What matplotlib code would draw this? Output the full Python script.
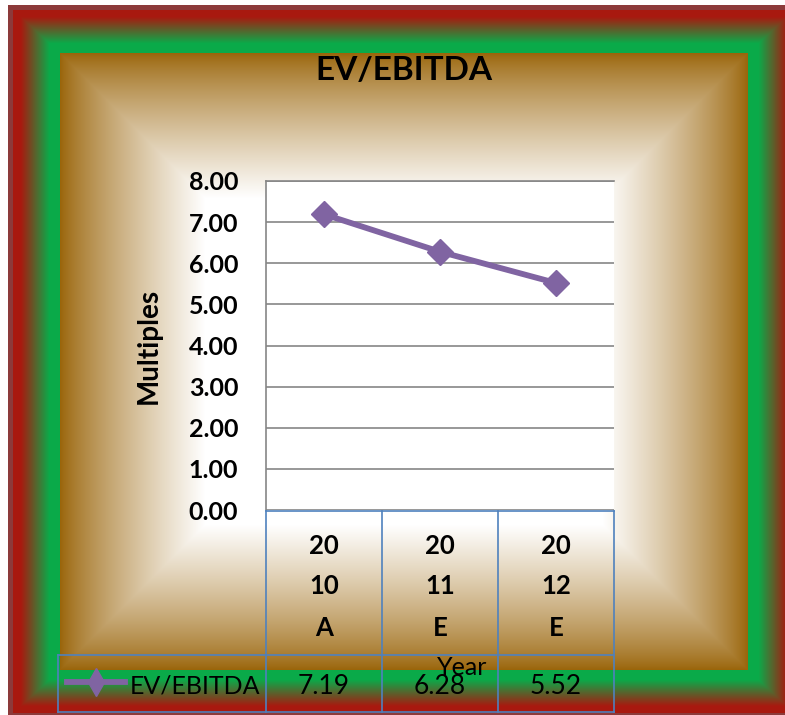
import numpy as np
import matplotlib.pyplot as plt
from matplotlib import transforms
from matplotlib.lines import Line2D

plt.rcParams['font.family'] = ['Lato', 'DejaVu Sans']

# data
categories = ['2010A', '2011E', '2012E']
ev_ebitda = [7.19, 6.28, 5.52]
yticks = [0, 1, 2, 3, 4, 5, 6, 7, 8]
series_name = 'EV/EBITDA'

W, H = 785, 715
fig = plt.figure(figsize=(W / 100, H / 100), dpi=100)

# frame background: red/green border band, brown -> white rectangular fill
xx, yy = np.meshgrid(np.arange(W) + 0.5, np.arange(H) + 0.5)
ox0, oy0, ox1, oy1 = 8, 5, 800, 718
bx, by = 52, 48
s = np.minimum.reduce([(xx - ox0) / bx, (ox1 - xx) / bx,
                       (yy - oy0) / by, (oy1 - yy) / by])
d = np.minimum.reduce([xx - 60, 748 - xx, yy - 53, 670 - yy])

border = np.array([0.55, 0.23, 0.23])
red = np.array([0.66, 0.10, 0.06])
green = np.array([0.04, 0.67, 0.29])
brown = np.array([0.60, 0.39, 0.03])
white = np.array([1.0, 1.0, 1.0])

u = np.clip((s - 0.25) / 0.55, 0, 1)[..., None]
band = red * (1 - u) + green * u
img = np.where((s < 0.1)[..., None], border, band)
t = np.clip(d / 145, 0, 1)[..., None] ** 0.8
inner = brown * (1 - t) + white * t
img = np.where((s >= 1)[..., None], inner, img)
img = np.where((s < 0)[..., None], white, img)

bg = fig.add_axes([0, 0, 1, 1])
bg.imshow(img, aspect='auto', interpolation='bilinear')
bg.axis('off')

# plot area
ax = fig.add_axes([266 / W, (H - 510) / H, 348 / W, 329 / H])
ax.set_facecolor('white')
x = np.arange(len(categories))
ax.plot(x, ev_ebitda, color='#8064A2', lw=4.2, marker='D', markersize=13.5,
        zorder=3)
ax.set_xlim(-0.5, len(categories) - 0.5)
ax.set_ylim(0, 8)
ax.set_yticks(yticks)
ax.set_yticklabels([f'{v:.2f}' for v in yticks], fontsize=18,
                   fontweight='bold')
ax.set_xticks([])
ax.tick_params(axis='y', length=0, pad=20)
ax.yaxis.grid(True, color='#868686', lw=1.2)
ax.set_axisbelow(True)
for side in ['right', 'bottom']:
    ax.spines[side].set_visible(False)
for side in ['left', 'top']:
    ax.spines[side].set_color('#868686')
    ax.spines[side].set_linewidth(1.2)
ax.set_ylabel('Multiples', fontsize=20, fontweight='bold')
ax.yaxis.set_label_coords(-0.299, 0.5)

fig.text(404 / W, 1 - 80 / H, 'EV/EBITDA', fontsize=24, fontweight='bold',
         ha='center', va='baseline')

# data table under the axis
tr = transforms.blended_transform_factory(ax.transData, fig.transFigure)
fy = lambda py: 1 - py / H
blue = '#4F81BD'
edges = np.arange(len(categories) + 1) - 0.5
left_edge = -0.5 + (58 - 266) / 116
for e in edges:
    fig.add_artist(Line2D([e, e], [fy(511), fy(712)], transform=tr,
                          color=blue, lw=1.2))
fig.add_artist(Line2D([left_edge, left_edge], [fy(655), fy(712)],
                      transform=tr, color=blue, lw=1.2))
fig.add_artist(Line2D([edges[0], edges[-1]], [fy(511), fy(511)],
                      transform=tr, color=blue, lw=1.2))
for py in [655, 712]:
    fig.add_artist(Line2D([left_edge, edges[-1]], [fy(py), fy(py)],
                          transform=tr, color=blue, lw=1.2))

for i, cat in enumerate(categories):
    parts = [cat[:2], cat[2:4], cat[4:]]
    for part, py in zip(parts, [554, 594, 636]):
        ax.text(i, fy(py), part, transform=tr, ha='center', va='baseline',
                fontsize=18.5, fontweight='bold')
    ax.text(i, fy(694), f'{ev_ebitda[i]:.2f}', transform=tr, ha='center',
            va='baseline', fontsize=19)

ax.text(1.19, fy(675), 'Year', transform=tr, ha='center', va='baseline',
        fontsize=18)

# legend key in the table
key_l = -0.5 + (67 - 266) / 116
key_r = -0.5 + (125 - 266) / 116
fig.add_artist(Line2D([key_l, key_r], [fy(682), fy(682)], transform=tr,
                      color='#8064A2', lw=4.2))
fig.add_artist(Line2D([(key_l + key_r) / 2], [fy(682)], transform=tr,
                      color='#8064A2', marker='d', markersize=14, lw=0))
ax.text(-0.5 + (130 - 266) / 116, fy(694), series_name, transform=tr,
        ha='left', va='baseline', fontsize=18)

fig.savefig('out.png', dpi=100)
